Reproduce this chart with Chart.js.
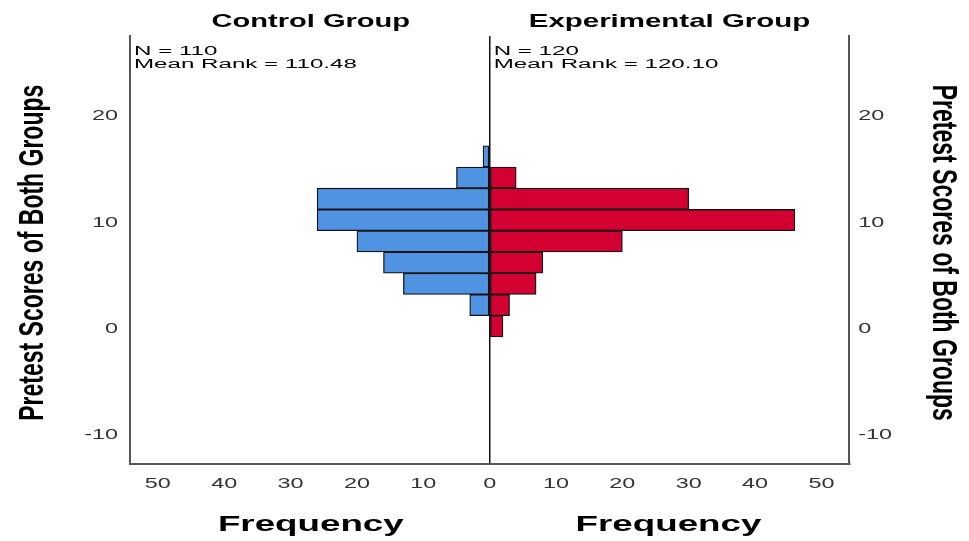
<!DOCTYPE html>
<html>
<head>
<meta charset="utf-8">
<title>Pretest Scores of Both Groups</title>
<script src="https://cdn.jsdelivr.net/npm/chart.js@4.4.1/dist/chart.umd.min.js"></script>
<style>
  html, body { margin: 0; padding: 0; background: #ffffff; }
  #wrap { width: 969px; height: 541px; }
</style>
</head>
<body>
<div id="wrap"><canvas id="pyramid" width="969" height="541"></canvas></div>
<script>
// Score bins (bin centres, width 2) and frequency per group
const scoreBins = [0, 2, 4, 6, 8, 10, 12, 14, 16];
const controlFreq = [0, 3, 13, 16, 20, 26, 26, 5, 1];
const experimentalFreq = [2, 3, 7, 8, 20, 46, 30, 4, 0];

const groupNames = ['Control Group', 'Experimental Group'];
const groupStats = [
  ['N = 110', 'Mean Rank = 110.48'],
  ['N = 120', 'Mean Rank = 120.10']
];
const scoreTicks = [-10, 0, 10, 20];
const freqTicks = [-50, -40, -30, -20, -10, 0, 10, 20, 30, 40, 50];
const scoreTitle = 'Pretest Scores of Both Groups';
const freqTitle = 'Frequency';

const FONT = "'Liberation Sans', Arial, Helvetica, sans-serif";
const SCORE_MIN = -12.92, SCORE_MAX = 27.33;
const FREQ_LIMIT = 54.2;

// control bars grow to the left (negative), experimental to the right
const controlPoints = scoreBins.map((s, i) => ({ y: s, x: controlFreq[i] ? -controlFreq[i] : null }));
const experimentalPoints = scoreBins.map((s, i) => ({ y: s, x: experimentalFreq[i] ? experimentalFreq[i] : null }));

// draw a text with horizontal stretch (wide SPSS-like glyphs)
function stretchedText(ctx, text, px, py, font, color, sx, align, baseline) {
  ctx.save();
  ctx.translate(px, py);
  ctx.scale(sx, 1);
  ctx.font = font;
  ctx.fillStyle = color;
  ctx.textAlign = align || 'left';
  ctx.textBaseline = baseline || 'alphabetic';
  ctx.fillText(text, 0, 0);
  ctx.restore();
}

// rotated axis title, stretched across the glyph height
function rotatedText(ctx, text, px, py, angle, font, color, sy) {
  ctx.save();
  ctx.translate(px, py);
  ctx.rotate(angle);
  ctx.scale(1, sy);
  ctx.font = font;
  ctx.fillStyle = color;
  ctx.textAlign = 'center';
  ctx.textBaseline = 'alphabetic';
  ctx.fillText(text, 0, 0);
  ctx.restore();
}

const pyramidText = {
  id: 'pyramidText',
  afterDraw(chart) {
    const { ctx, chartArea: a, scales } = chart;
    const xs = scales.x, ys = scales.y;
    const mid = xs.getPixelForValue(0);
    const leftMid = (a.left + mid) / 2;
    const rightMid = (mid + a.right) / 2;

    // group headings
    stretchedText(ctx, groupNames[0], leftMid + 1, 26.5, 'bold 19px ' + FONT, '#000', 1.53, 'center');
    stretchedText(ctx, groupNames[1], rightMid, 26.5, 'bold 19px ' + FONT, '#000', 1.55, 'center');

    // N / mean rank annotations in each panel
    [a.left + 4, mid + 4].forEach((px, g) => {
      stretchedText(ctx, groupStats[g][0], px, 55, '12.5px ' + FONT, '#000', 1.93, 'left');
      stretchedText(ctx, groupStats[g][1], px, 67.5, '12.5px ' + FONT, '#000', 1.93, 'left');
    });

    // score tick labels on both sides
    ys.ticks.forEach(t => {
      const py = ys.getPixelForValue(t.value) + 2.5;
      stretchedText(ctx, String(t.value), a.left - 12, py, '15px ' + FONT, '#333333', 1.56, 'right', 'middle');
      stretchedText(ctx, String(t.value), a.right + 9, py, '15px ' + FONT, '#333333', 1.56, 'left', 'middle');
    });

    // frequency tick labels (absolute values both ways)
    xs.ticks.forEach(t => {
      const px = xs.getPixelForValue(t.value);
      stretchedText(ctx, String(Math.abs(t.value)), px, a.bottom + 20, '15px ' + FONT, '#333333', 1.56, 'center', 'middle');
    });

    // frequency axis titles
    stretchedText(ctx, freqTitle, leftMid + 1, 531, 'bold 22px ' + FONT, '#000', 1.67, 'center');
    stretchedText(ctx, freqTitle, rightMid - 1, 531, 'bold 22px ' + FONT, '#000', 1.67, 'center');

    // score axis titles
    const cy = (a.top + a.bottom) / 2 + 3;
    rotatedText(ctx, scoreTitle, 43, cy, -Math.PI / 2, 'bold 23px ' + FONT, '#000', 1.55);
    rotatedText(ctx, scoreTitle, 933, cy, Math.PI / 2, 'bold 23px ' + FONT, '#000', 1.55);
  }
};

const frameBorder = { display: true, color: '#555555', width: 2 };

new Chart(document.getElementById('pyramid'), {
  type: 'bar',
  data: {
    datasets: [
      { label: groupNames[0], data: controlPoints, backgroundColor: '#5193e3' },
      { label: groupNames[1], data: experimentalPoints, backgroundColor: '#d30031' }
    ]
  },
  options: {
    responsive: false,
    animation: false,
    devicePixelRatio: 1,
    indexAxis: 'y',
    layout: { padding: { top: 36, left: 0, right: 0, bottom: 0 } },
    datasets: {
      bar: {
        grouped: false,
        categoryPercentage: 1,
        barPercentage: 1,
        borderWidth: 1.3,
        borderColor: '#141414',
        borderSkipped: false
      }
    },
    plugins: {
      legend: { display: false },
      tooltip: { enabled: false },
      title: { display: false }
    },
    scales: {
      x: {
        type: 'linear',
        min: -FREQ_LIMIT,
        max: FREQ_LIMIT,
        offset: false,
        afterBuildTicks: s => { s.ticks = freqTicks.map(v => ({ value: v })); },
        afterFit: s => { s.height = 77.5; },
        grid: {
          drawTicks: false,
          lineWidth: 1.5,
          color: c => (c.tick && c.tick.value === 0) ? '#111111' : 'rgba(0,0,0,0)'
        },
        border: frameBorder,
        ticks: { display: false }
      },
      y: {
        type: 'linear',
        position: 'left',
        min: SCORE_MIN,
        max: SCORE_MAX,
        offset: false,
        afterBuildTicks: s => { s.ticks = scoreTicks.map(v => ({ value: v })); },
        afterFit: s => { s.width = 130; },
        grid: { display: false, drawTicks: false, offset: false },
        border: frameBorder,
        ticks: { display: false }
      },
      y2: {
        type: 'linear',
        position: 'right',
        min: SCORE_MIN,
        max: SCORE_MAX,
        offset: false,
        afterBuildTicks: s => { s.ticks = scoreTicks.map(v => ({ value: v })); },
        afterFit: s => { s.width = 119.7; },
        grid: { display: false, drawTicks: false, offset: false },
        border: frameBorder,
        ticks: { display: false }
      }
    }
  },
  plugins: [pyramidText]
});
</script>
</body>
</html>
